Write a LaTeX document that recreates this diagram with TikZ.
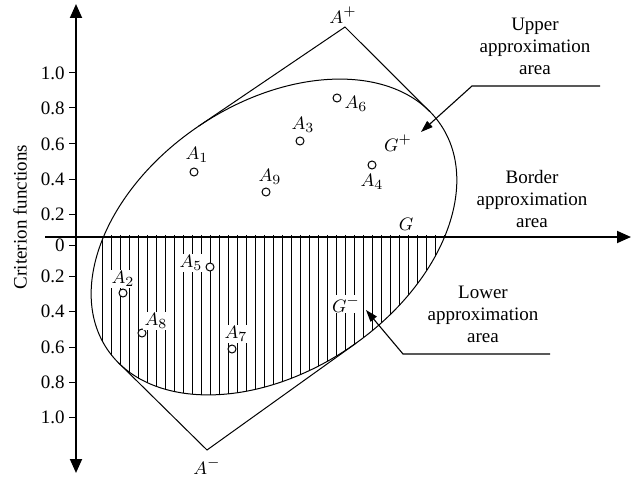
\documentclass[tikz,border=0pt]{standalone}
\usepackage{fontspec}
\setmainfont{Liberation Serif}
\usepackage{tikz}
\usetikzlibrary{arrows.meta, positioning, calc}
\tikzset{
  alt/.style={circle, draw, fill=white, inner sep=0pt, minimum size=4pt, line width=0.5pt},
  altname/.style={inner sep=0.6pt},
  onhatch/.style={fill=white},
  ticklbl/.style={anchor=east, inner sep=0pt},
  note/.style={align=center, inner sep=0pt},
  axisline/.style={line width=0.9pt},
  callout/.style={line width=0.55pt, -{Triangle[length=6pt, width=4pt]}},
}

\begin{document}
\begin{tikzpicture}[x=0.5pt, y=-0.5pt, font=\fontsize{9.5}{11}\selectfont, line width=0.5pt]
  \useasboundingbox (0,0) rectangle (637,481);

  \coordinate (orig) at (274,237);
  \coordinate (xstart) at (45,237);
  \coordinate (xend) at (631,237);
  \coordinate (ytop) at (76,4);
  \coordinate (ybot) at (76,473);

  % hatched lower part
  \begin{scope}
    \clip (40,235) rectangle (637,481);
    \clip[rotate around={33.9:(orig)}] (orig) ellipse [x radius=201, y radius=134];
    \foreach \hx in {102,111,...,447}
      \draw (\hx,235) -- (\hx,420);
  \end{scope}

  \draw[rotate around={33.9:(orig)}] (orig) ellipse [x radius=201, y radius=134];

  % axes
  \draw[axisline, -{Triangle[length=7pt, width=6pt]}] (xstart) -- (xend);
  \draw[axisline, {Triangle[length=7pt, width=6pt]}-{Triangle[length=7pt, width=6pt]}] (ybot) -- (ytop);

  \foreach \ty/\tl in {73/1.0, 108/0.8, 144/0.6, 179/0.4, 214/0.2, 245/0, 276/0.2, 311/0.4, 347/0.6, 382/0.8, 417/1.0} {
    \draw (69,\ty) -- (76,\ty);
    \node[ticklbl] (tick\ty) at (65,\ty) {\tl};
  }
  \node[rotate=90] (ylabel) at (20,217) {Criterion functions};

  % tangent lines
  \coordinate (Aplus) at (345,27);
  \coordinate (Aminus) at (207,450);
  \coordinate (tUL) at (198.4,126.3);
  \coordinate (tUR) at (429.6,111.4);
  \coordinate (tLL) at (118.8,363.1);
  \coordinate (tLR) at (356.2,343.1);
  \draw (tUL) -- (Aplus) -- (tUR);
  \draw (tLL) -- (Aminus) -- (tLR);
  \node (aplus) at (343,15) {$A^{+}$};
  \node (aminus) at (207,466) {$A^{-}$};

  % alternatives
  \node[alt] (a1) at (194,172) {};
  \node[alt] (a2) at (123,293) {};
  \node[alt] (a3) at (300,141) {};
  \node[alt] (a4) at (372,165) {};
  \node[alt] (a5) at (210,267) {};
  \node[alt] (a6) at (337,98) {};
  \node[alt] (a7) at (232,349) {};
  \node[alt] (a8) at (142,333) {};
  \node[alt] (a9) at (266,192) {};
  \node[altname] (n1) at (197,155) {$A_1$};
  \node[altname, onhatch] (n2) at (123,279) {$A_2$};
  \node[altname] (n3) at (303,125) {$A_3$};
  \node[altname] (n4) at (372,182) {$A_4$};
  \node[altname, onhatch] (n5) at (191,263) {$A_5$};
  \node[altname] (n6) at (356,104) {$A_6$};
  \node[altname, onhatch] (n7) at (236,334) {$A_7$};
  \node[altname, onhatch] (n8) at (156,321) {$A_8$};
  \node[altname] (n9) at (270,177) {$A_9$};

  \node[altname] (gplus) at (398,143) {$G^{+}$};
  \node[altname] (gmid) at (406,224) {$G$};
  \node[altname, onhatch] (gminus) at (346,304) {$G^{-}$};

  % callouts
  \node[note] (upper) at (535,46) {Upper\\approximation\\area};
  \node[note] (border) at (532,199) {Border\\approximation\\area};
  \node[note] (lower) at (483,314) {Lower\\approximation\\area};
  \coordinate (upEnd) at (600,86);
  \coordinate (upBend) at (472,86);
  \coordinate (upTip) at (421,132);
  \coordinate (loEnd) at (550,354);
  \coordinate (loBend) at (403,354);
  \coordinate (loTip) at (366,310);
  \draw[callout] (upEnd) -- (upBend) -- (upTip);
  \draw[callout] (loEnd) -- (loBend) -- (loTip);
\end{tikzpicture}
\end{document}
